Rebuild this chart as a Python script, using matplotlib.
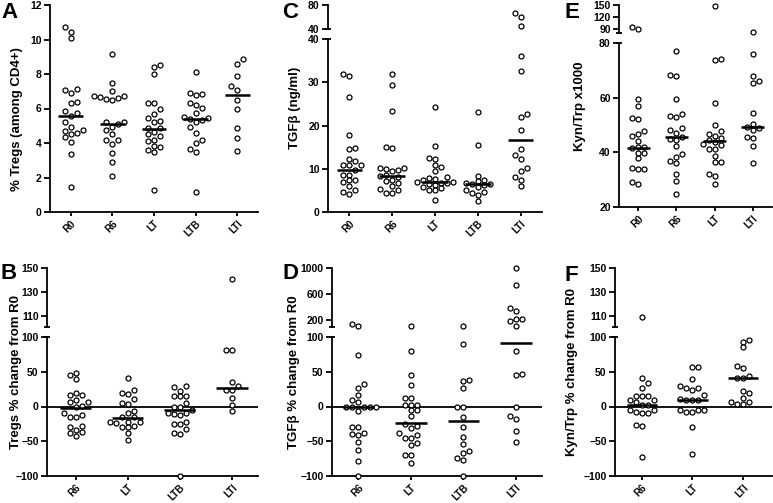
import matplotlib
matplotlib.use('Agg')
import matplotlib.pyplot as plt
import numpy as np

plt.rcParams['font.family'] = ['Liberation Sans', 'DejaVu Sans']
plt.rcParams['font.weight'] = 'bold'
plt.rcParams['axes.linewidth'] = 1.3

# ---- Panel A: % Tregs ----
tregs_groups = ['R0', 'R6', 'LT', 'LTB', 'LTI']
tregs_R0 = [10.75, 10.45, 10.1, 7.15, 7.1, 6.9, 6.35, 6.3, 5.85, 5.75, 5.55, 5.2, 4.95,
            4.75, 4.7, 4.6, 4.55, 4.35, 4.05, 3.35, 1.45]
tregs_R6 = [9.15, 7.5, 7.0, 6.75, 6.7, 6.65, 6.6, 6.55, 6.5, 5.2, 5.2, 5.1, 4.95, 4.75,
            4.5, 4.2, 4.15, 3.95, 3.4, 2.9, 2.1]
tregs_LT = [8.5, 8.4, 8.0, 6.3, 6.3, 6.0, 5.7, 5.45, 5.3, 5.2, 4.85, 4.85, 4.65, 4.5, 4.4,
            4.2, 4.1, 3.85, 3.75, 3.6, 3.5, 1.3]
tregs_LTB = [8.1, 6.9, 6.85, 6.8, 6.3, 6.2, 6.05, 5.75, 5.5, 5.45, 5.4, 5.35, 5.2, 4.9,
             4.6, 4.2, 4.0, 3.65, 3.5, 1.15]
tregs_LTI = [8.85, 8.6, 7.9, 7.3, 7.1, 6.5, 6.0, 4.85, 4.3, 3.55]
tregs_medians = [5.55, 5.1, 4.8, 5.4, 6.8]

# ---- Panel B: Tregs % change from R0 ----
chg_groups4 = ['R6', 'LT', 'LTB', 'LTI']
tregs_chg_R6 = [48.9, 45.6, 39.3, 20.1, 16.8, 16.8, 9.6, 5.8, 5.8, 1.0, -1.4, -10, -12.5,
                -14.4, -14.4, -27.8, -29.3, -33.6, -36.5, -37.9, -42.2]
tregs_chg_LT = [40.8, 23.5, 20.1, 18.7, 10.6, 4.8, 3.8, -6.2, -9.6, -14.4, -15.8, -21.6,
                -23, -23, -24, -27.8, -29.3, -29.3, -38.8, -48]
tregs_chg_LTB = [29.7, 28.3, 22.5, 15.3, 14.9, 14.9, 4.8, 0, -0.5, -5.3, -9.1, -10, -11,
                 -12.5, -22, -24.5, -25.4, -32.6, -37.9, -39.8, -100]
tregs_chg_LTI = [141, 81.5, 81, 35.5, 28.8, 23.5, 23.5, 12, 2.4, -6.7]
tregs_chg_medians = [-2, -16, -5, 27]

# ---- Panel C: TGFb ----
tgfb_R0 = [31.9, 31.5, 26.6, 17.7, 14.9, 14.5, 12.2, 11.9, 10.9, 10.9, 10.8, 9.8, 8.6,
           8.5, 7.4, 7.3, 6.9, 5.9, 5.0, 4.6, 4.2]
tgfb_R6 = [31.9, 29.4, 23.3, 15.0, 14.8, 10.2, 10.1, 10.0, 9.8, 9.4, 8.6, 8.3, 8.0, 7.5,
           7.2, 6.6, 6.0, 5.4, 5.0, 4.5, 4.4]
tgfb_LT = [24.2, 15.3, 12.4, 12.2, 10.9, 10.4, 9.5, 8.0, 7.9, 7.7, 7.5, 7.0, 6.9, 6.8,
           6.6, 6.5, 6.3, 5.8, 5.5, 5.2, 5.0, 2.8]
tgfb_LTB = [23.1, 15.5, 8.4, 7.5, 7.1, 6.7, 6.5, 6.4, 6.2, 5.8, 5.0, 4.7, 4.5, 4.0, 2.5]
tgfb_LTI = [67, 59.5, 45, 36.1, 32.6, 22.7, 22.0, 19.0, 14.6, 13.2, 12.3, 10.2, 9.5, 8.2,
            7.4, 5.9]
tgfb_medians = [9.8, 8.4, 6.9, 6.5, 16.7]

# ---- Panel D: TGFb % change from R0 ----
tgfb_chg_R6 = [149, 108, 74.8, 32.1, 26.9, 16.8, 9.6, 5.8, 0, 0, 0, 0, 0, -6.2, -29.3,
               -29.3, -38.4, -38.9, -40.8, -50.8, -62.8, -79.1, -100]
tgfb_chg_LT = [108, 79.6, 45.6, 31.2, 12, 12, 2.4, 2.4, 2.4, -5.3, -5.3, -13, -24.5, -27.8,
               -31.2, -38.4, -40.8, -45.6, -45.6, -53.2, -56.1, -69.5, -70.5, -82]
tgfb_chg_LTB = [113, 89.7, 38.8, 36, 26.9, 0, 0, -14.4, -28.8, -44.6, -54.2, -63.8, -66.2,
                -74.3, -76.7, -100]
tgfb_chg_LTI = [1000, 740, 394, 338, 225, 215, 185, 108, 79.6, 46.5, 45.6, 0, -13.4, -18.2,
                -35.5, -50.4]
tgfb_chg_medians = [0, -24, -21, 92]

# ---- Panel E: Kyn/Trp x1000 ----
kyn_groups = ['R0', 'R6', 'LT', 'LTI']
kyn_R0 = [93, 88, 59.4, 57, 52.7, 52.2, 47.7, 46.8, 46.1, 44.3, 41.8, 41.8, 41.5, 39.8,
          39.8, 37.8, 34.3, 34.0, 34.0, 29.1, 28.5]
kyn_R6 = [77, 68.3, 67.8, 59.4, 53.9, 53.2, 52.9, 48.8, 48.3, 47.2, 45.6, 45.0, 44.4, 42.3,
          39.5, 38.3, 36.8, 36.2, 32.2, 29.5, 24.9]
kyn_LT = [147.5, 74.3, 73.9, 58.2, 50.1, 47.8, 46.7, 46.1, 45.4, 44.4, 43.8, 42.9, 42.7,
          41.1, 41.1, 38.8, 36.6, 36.5, 32.2, 31.3, 28.5]
kyn_LTI = [80.5, 75.9, 67.9, 66.2, 65.2, 54.4, 50.2, 49.1, 49.0, 48.0, 45.6, 45.4, 42.5, 36.2]
kyn_medians = [41.7, 45.5, 44.2, 49.2]

# ---- Panel F: Kyn/Trp % change from R0 ----
kyn_chg_groups = ['R6', 'LT', 'LTI']
kyn_chg_R6 = [109.2, 41.7, 34.5, 27.3, 14.4, 14.4, 14.4, 9.1, 9.1, 5.8, 2.4, 2.4, -4.8,
              -5.3, -8.2, -9.6, -9.6, -26.4, -27.8, -72.4]
kyn_chg_LT = [57.1, 57.1, 39.8, 28.8, 27.3, 26.4, 23.5, 16.8, 11.5, 9.6, 9.6, 9.6, -4.8,
              -4.8, -4.8, -7.7, -7.7, -30.2, -68.6]
kyn_chg_LTI = [96.4, 93.5, 84.9, 58.5, 55.2, 44.1, 41.7, 41.7, 21.6, 19.2, 12.5, 5.8, 4.3,
               4.3, 5.8]
kyn_chg_medians = [2, 9, 41]

W, H = 773, 503
fig = plt.figure(figsize=(W / 100, H / 100), dpi=100)


def box(left, right, top, bottom):
    return [left / W, 1 - bottom / H, (right - left) / W, (bottom - top) / H]


def swarm(vals, px_per_y, step_px=6.0, min_px=5.2):
    # deterministic column scatter, like Prism does it
    vals = np.asarray(vals, dtype=float)
    slots = np.zeros(len(vals))
    placed = []
    flip = False
    for i in np.argsort(vals):
        y = vals[i] * px_per_y
        cands = [0]
        for j in range(1, 15):
            cands += [j, -j] if flip else [-j, j]
        for s in cands:
            if all(abs(y - py) >= min_px for ps, py in placed if ps == s):
                break
        if s != 0:
            flip = not flip
        placed.append((s, y))
        slots[i] = s
    return slots * step_px


def style(ax, yticks, xlabels=None):
    ax.spines['top'].set_visible(False)
    ax.spines['right'].set_visible(False)
    ax.set_yticks(yticks)
    ax.tick_params(axis='y', direction='out', length=4, width=1.3, labelsize=7.5, pad=2)
    if xlabels is None:
        ax.spines['bottom'].set_visible(False)
        ax.set_xticks([])
    else:
        ax.set_xticks(range(len(xlabels)))
        ax.set_xticklabels(xlabels, rotation=45, ha='right', va='top',
                           rotation_mode='anchor', fontsize=7)
        ax.tick_params(axis='x', direction='out', length=3, width=1.3, pad=2)


def cap(ax, y_axes):
    w = ax.get_position().width * W
    d = 3.0 / w
    ax.plot([-d, d], [y_axes, y_axes], transform=ax.transAxes, color='black',
            lw=1.3, clip_on=False, solid_capstyle='butt')


def draw_points(ax, vals, pos):
    if len(vals) == 0:
        return
    p = ax.get_position()
    x0, x1 = ax.get_xlim()
    y0, y1 = ax.get_ylim()
    px_x = p.width * W / (x1 - x0)
    px_y = p.height * H / (y1 - y0)
    off = swarm(vals, px_y) / px_x
    ax.plot(pos + off, vals, 'o', mfc='white', mec='black', ms=3.6, mew=0.9,
            clip_on=False, zorder=3, ls='none')


def panel(lo_rect, groups, values, medians, xlim, ylim_lo, yticks_lo,
          hi_rect=None, ylim_hi=None, yticks_hi=None, zero=False):
    ax = fig.add_axes(box(*lo_rect))
    ax.set_xlim(*xlim)
    ax.set_ylim(*ylim_lo)
    style(ax, yticks_lo, groups)
    axh = None
    if hi_rect is not None:
        axh = fig.add_axes(box(*hi_rect))
        axh.set_xlim(*xlim)
        axh.set_ylim(*ylim_hi)
        style(axh, yticks_hi)
        cap(ax, 1.0)
        cap(axh, 0.0)
    if zero:
        ax.axhline(0, color='black', lw=1.3, zorder=2)
    for i, vals in enumerate(values):
        vals = np.asarray(vals, dtype=float)
        lo = vals[vals <= ylim_lo[1]]
        hi = vals[vals > ylim_lo[1]]
        draw_points(ax, lo, i)
        if axh is not None:
            draw_points(axh, hi, i)
        ax.plot([i - 0.3, i + 0.3], [medians[i], medians[i]], color='black', lw=1.8,
                zorder=4, solid_capstyle='butt')
    return ax


# A
panel((50, 258, 5, 212), tregs_groups,
      [tregs_R0, tregs_R6, tregs_LT, tregs_LTB, tregs_LTI], tregs_medians,
      (-0.5, 4.5), (0, 12), [0, 2, 4, 6, 8, 10, 12])

# C
panel((328, 542, 39, 212), tregs_groups,
      [tgfb_R0, tgfb_R6, tgfb_LT, tgfb_LTB, tgfb_LTI], tgfb_medians,
      (-0.5, 4.5), (0, 40), [0, 10, 20, 30, 40],
      hi_rect=(328, 542, 5, 29), ylim_hi=(40, 80), yticks_hi=[40, 80])

# E
panel((619, 772, 43, 207), kyn_groups,
      [kyn_R0, kyn_R6, kyn_LT, kyn_LTI], kyn_medians,
      (-0.5, 3.5), (20, 80), [20, 40, 60, 80],
      hi_rect=(619, 772, 5, 33), ylim_hi=(79, 150), yticks_hi=[90, 120, 150])

# B
panel((47, 258, 337, 476), chg_groups4,
      [tregs_chg_R6, tregs_chg_LT, tregs_chg_LTB, tregs_chg_LTI], tregs_chg_medians,
      (-0.55, 3.5), (-100, 100), [-100, -50, 0, 50, 100],
      hi_rect=(47, 258, 268, 327), ylim_hi=(101, 150), yticks_hi=[110, 130, 150], zero=True)

# D
panel((332, 542, 337, 476), chg_groups4,
      [tgfb_chg_R6, tgfb_chg_LT, tgfb_chg_LTB, tgfb_chg_LTI], tgfb_chg_medians,
      (-0.5, 3.5), (-100, 100), [-100, -50, 0, 50, 100],
      hi_rect=(332, 542, 268, 327), ylim_hi=(97, 1000), yticks_hi=[200, 600, 1000], zero=True)

# F
panel((615, 772, 337, 476), kyn_chg_groups,
      [kyn_chg_R6, kyn_chg_LT, kyn_chg_LTI], kyn_chg_medians,
      (-0.53, 2.57), (-100, 100), [-100, -50, 0, 50, 100],
      hi_rect=(615, 772, 268, 327), ylim_hi=(101, 150), yticks_hi=[110, 130, 150], zero=True)

# y labels
ylabels = [(17, 119, '% Tregs (among CD4+)'), (16, 372, 'Tregs % change from R0'),
           (295, 108, 'TGFβ (ng/ml)'), (294, 372, 'TGFβ % change from R0'),
           (580, 106, 'Kyn/Trp x1000'), (572, 372, 'Kyn/Trp % change from R0')]
for x, y, t in ylabels:
    fig.text(x / W, 1 - y / H, t, rotation=90, ha='center', va='center',
             fontsize=9.5, weight='bold')

# panel letters
letters = [(1, 2, 'A'), (0, 263, 'B'), (282, 2, 'C'), (282, 263, 'D'),
           (564, 2, 'E'), (564, 265, 'F')]
for x, y, t in letters:
    fig.text(x / W, 1 - y / H, t, ha='left', va='top', fontsize=16, weight='bold')

fig.savefig('out.png', dpi=100, facecolor='white')
